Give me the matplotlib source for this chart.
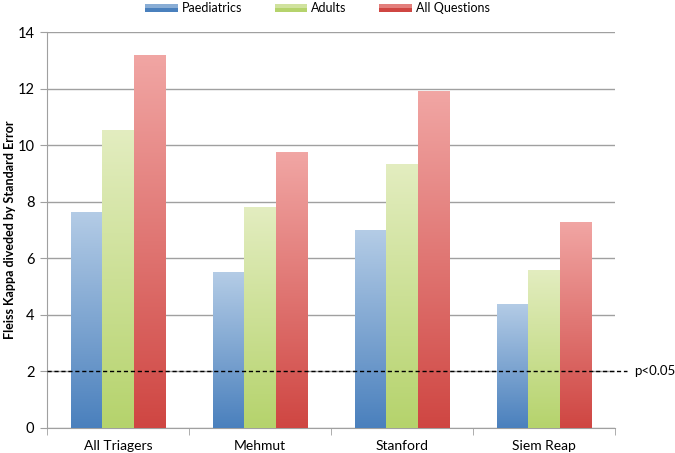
import numpy as np
import matplotlib.pyplot as plt
from matplotlib.colors import LinearSegmentedColormap
from matplotlib.patches import Rectangle
from matplotlib.legend_handler import HandlerBase

# --- Data ---
categories = ["All Triagers", "Mehmut", "Stanford", "Siem Reap"]
paediatrics = [7.65, 5.5, 7.0, 4.4]
adults = [10.55, 7.8, 9.35, 5.6]
all_questions = [13.2, 9.75, 11.9, 7.3]
series_names = ["Paediatrics", "Adults", "All Questions"]
threshold = 2.0
threshold_label = "p<0.05"

# gradient colours (top, bottom)
GRADS = [("#b4cce6", "#4a80bd"), ("#e3edc0", "#b5d36c"), ("#f1a6a4", "#cf4642")]
GRID = "#a0a0a0"

plt.rcParams["font.family"] = ["Lato", "DejaVu Sans"]

fig = plt.figure(figsize=(6.75, 4.53), dpi=100)
ax = fig.add_axes([0.0696, 0.0552, 0.8415, 0.874])

x = np.arange(len(categories))
width = 0.222
grad = np.linspace(0, 1, 256).reshape(-1, 1)

for i, (vals, (top, bot)) in enumerate(zip([paediatrics, adults, all_questions], GRADS)):
    cmap = LinearSegmentedColormap.from_list(f"g{i}", [bot, top])
    bars = ax.bar(x + (i - 1) * width, vals, width=width, color="none", edgecolor="none", zorder=3)
    for b in bars:
        im = ax.imshow(grad, cmap=cmap, aspect="auto", origin="lower",
                       extent=[b.get_x(), b.get_x() + b.get_width(), 0, b.get_height()],
                       zorder=3)
        im.set_clip_path(b)

ax.set_xlim(-0.5, len(categories) - 0.5)
ax.set_ylim(0, 14)
ax.set_yticks(np.arange(0, 15, 2))
ax.yaxis.grid(True, color=GRID, linewidth=1.0, zorder=0)
ax.set_axisbelow(True)

ax.set_xticks(x)
ax.set_xticklabels(categories, fontsize=10)
ax.set_xticks(np.arange(-0.5, len(categories)), minor=True)
ax.tick_params(axis="x", which="major", length=0, pad=9)
ax.tick_params(axis="x", which="minor", length=5, color=GRID, direction="out")
ax.tick_params(axis="y", length=5, color=GRID, direction="out", labelsize=10.5, pad=4)

for s in ["top", "right"]:
    ax.spines[s].set_visible(False)
for s in ["left", "bottom"]:
    ax.spines[s].set_color(GRID)

ax.set_ylabel("Fleiss Kappa diveded by Standard Error", fontsize=9, fontweight="bold")
ax.yaxis.set_label_coords(-0.054, 0.5)

# significance threshold, running a little past the plot area
ax.plot([0, 1.021], [threshold, threshold], transform=ax.get_yaxis_transform(),
        color="black", linestyle=(0, (3, 2)), linewidth=1.0, zorder=4, clip_on=False)
ax.text(1.033, threshold, threshold_label, transform=ax.get_yaxis_transform(),
        fontsize=9.5, va="center", ha="left")


# legend with gradient handles
class GradHandler(HandlerBase):
    def __init__(self, colors):
        super().__init__()
        self.colors = colors

    def create_artists(self, legend, orig_handle, xd, yd, w, h, fontsize, trans):
        top, bot = self.colors
        y0 = yd + h * 0.5 - 3
        r = Rectangle((xd, y0), w, 6, facecolor=bot, edgecolor="none", transform=trans)
        r2 = Rectangle((xd, y0 + 3), w, 3, facecolor=top, edgecolor="none", alpha=0.6, transform=trans)
        return [r, r2]


handles = [Rectangle((0, 0), 1, 1) for _ in series_names]
handler_map = {h: GradHandler(c) for h, c in zip(handles, GRADS)}
fig.legend(handles, series_names, handler_map=handler_map, loc="center",
           bbox_to_anchor=(0.47, 0.982), ncol=3, frameon=False, fontsize=9,
           handlelength=2.6, columnspacing=2.6, handletextpad=0.33, borderpad=0)

fig.savefig("out.png", dpi=100)
